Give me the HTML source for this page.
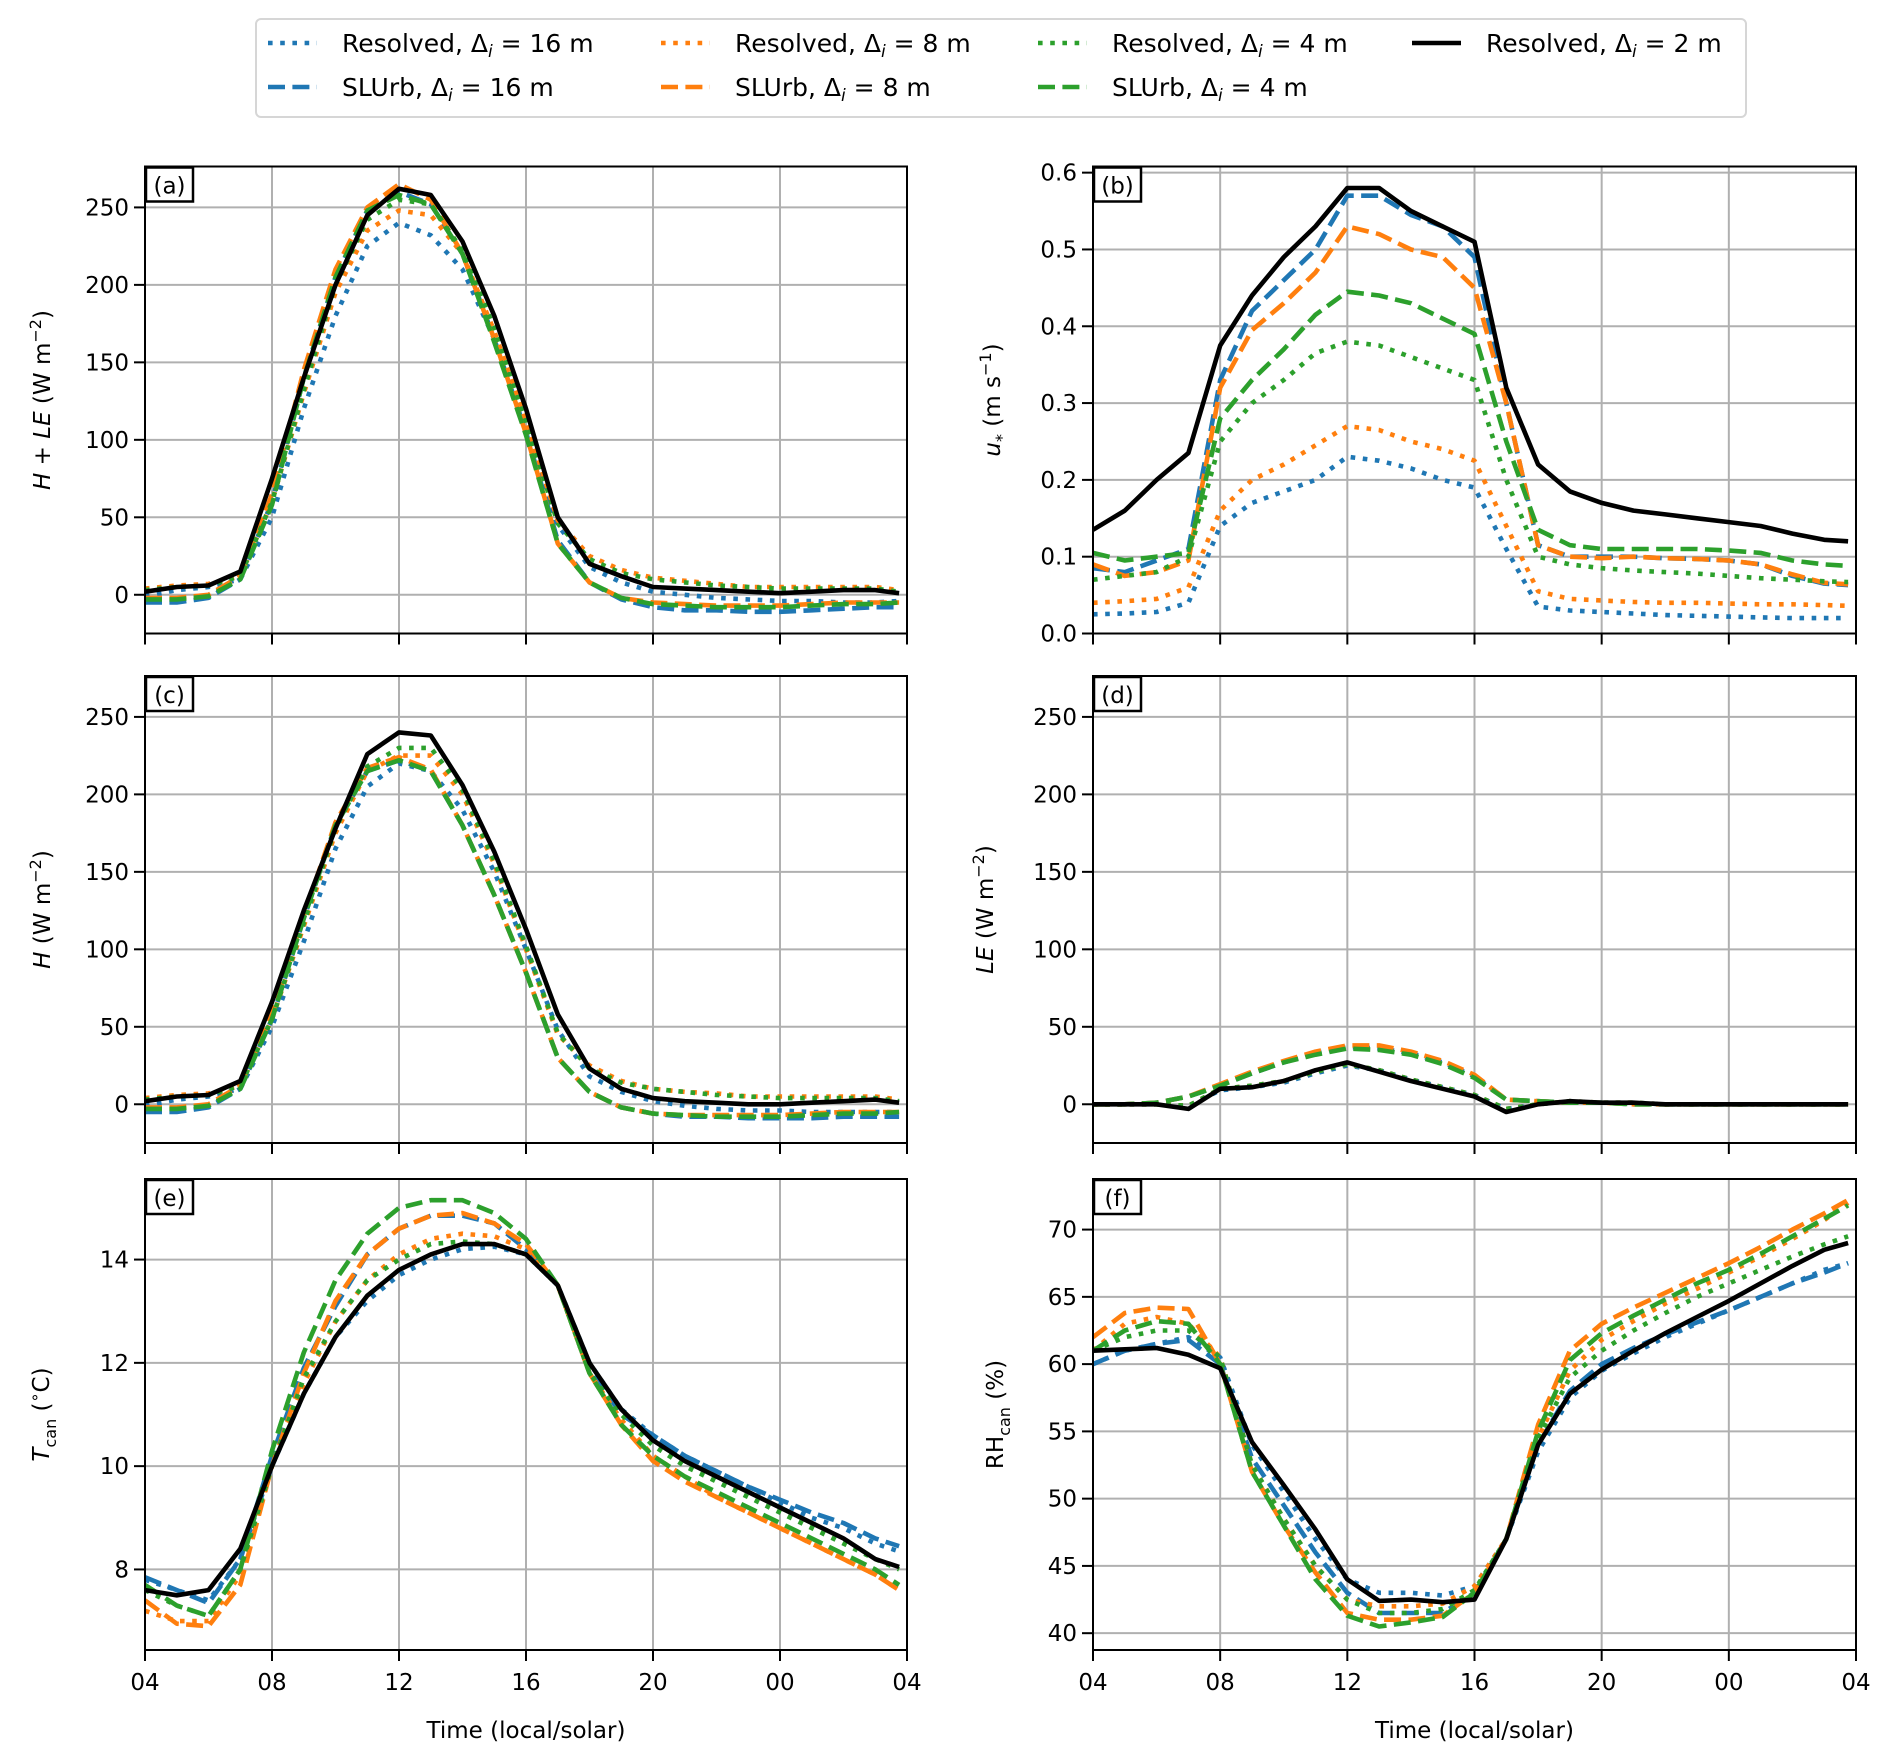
<!DOCTYPE html>
<html><head><meta charset="utf-8"><style>
html,body{margin:0;padding:0;background:#fff;}
svg{display:block;font-family:"DejaVu Sans","Liberation Sans",sans-serif;}
</style></head><body>
<svg id="fig" width="1892" height="1762" viewBox="0 0 1892 1762" xmlns="http://www.w3.org/2000/svg">
<rect width="1892" height="1762" fill="#fff"/>
<g id="legend">
<rect x="256" y="19" width="1490" height="98" rx="5" fill="#fff" stroke="#d6d6d6" stroke-width="2"/>
</g>
</svg>
<script>
const hours = [4,5,6,7,8,9,10,11,12,13,14,15,16,17,18,19,20,21,22,23,24,25,26,27,27.75];
const xTickLabels = ['04','08','12','16','20','00','04'];
const xTickValues = [4,8,12,16,20,24,28];
const seriesNames = ['Resolved, Δi = 16 m','SLUrb, Δi = 16 m','Resolved, Δi = 8 m','SLUrb, Δi = 8 m','Resolved, Δi = 4 m','SLUrb, Δi = 4 m','Resolved, Δi = 2 m'];

// Panel (a) H+LE
const aRes16 = [-1,3,5,10,50,120,180,225,240,232,210,165,110,45,18,8,2,0,-2,-3,-4,-4,-5,-5,-4];
const aSlu16 = [-5,-5,-2,10,60,140,205,248,260,252,220,165,105,35,8,-3,-8,-10,-10,-11,-11,-10,-9,-8,-8];
const aRes8 = [4,6,7,12,60,130,195,235,248,245,220,170,112,48,25,16,11,9,7,5,5,5,5,5,3];
const aSlu8 = [-2,-2,0,12,65,145,210,250,265,255,220,165,104,33,8,-2,-5,-6,-7,-7,-7,-6,-5,-5,-5];
const aRes4 = [3,5,6,12,60,132,200,242,255,252,222,172,112,46,23,14,10,8,6,5,4,4,4,4,2];
const aSlu4 = [-3,-3,-1,10,58,140,205,248,258,252,220,163,103,33,8,-2,-6,-7,-8,-8,-8,-7,-6,-6,-5];
const aRes2 = [2,5,6,15,75,140,200,245,262,258,228,180,120,50,20,12,5,4,3,2,1,2,3,3,1];

// Panel (b) u*
const bRes16 = [0.025,0.026,0.028,0.04,0.14,0.17,0.185,0.2,0.23,0.225,0.215,0.2,0.19,0.11,0.035,0.03,0.028,0.026,0.024,0.023,0.022,0.021,0.02,0.02,0.02];
const bSlu16 = [0.085,0.08,0.095,0.11,0.33,0.42,0.46,0.5,0.57,0.57,0.545,0.53,0.49,0.3,0.115,0.1,0.1,0.1,0.098,0.097,0.095,0.09,0.075,0.065,0.063];
const bRes8 = [0.04,0.042,0.045,0.06,0.16,0.2,0.22,0.245,0.27,0.265,0.25,0.24,0.225,0.14,0.055,0.045,0.043,0.041,0.04,0.04,0.039,0.038,0.038,0.037,0.036];
const bSlu8 = [0.09,0.075,0.08,0.095,0.32,0.395,0.43,0.47,0.53,0.52,0.5,0.49,0.45,0.3,0.115,0.1,0.098,0.1,0.098,0.097,0.095,0.09,0.077,0.066,0.064];
const bRes4 = [0.07,0.075,0.08,0.1,0.25,0.3,0.33,0.365,0.38,0.375,0.36,0.345,0.33,0.2,0.1,0.09,0.085,0.082,0.08,0.078,0.075,0.072,0.07,0.068,0.067];
const bSlu4 = [0.105,0.095,0.1,0.105,0.28,0.33,0.37,0.415,0.445,0.44,0.43,0.41,0.39,0.25,0.135,0.115,0.11,0.11,0.11,0.11,0.108,0.105,0.095,0.09,0.088];
const bRes2 = [0.135,0.16,0.2,0.235,0.375,0.44,0.49,0.53,0.58,0.58,0.55,0.53,0.51,0.32,0.22,0.185,0.17,0.16,0.155,0.15,0.145,0.14,0.13,0.122,0.12];

// Panel (c) H
const cRes16 = [-1,3,5,10,50,105,165,205,220,215,190,150,100,48,18,8,2,-1,-3,-4,-4,-5,-5,-5,-5];
const cSlu16 = [-5,-5,-2,10,55,120,180,215,222,215,180,135,85,30,8,-2,-6,-8,-8,-9,-9,-9,-8,-8,-8];
const cRes8 = [4,6,7,12,55,115,175,215,225,225,200,155,100,45,25,15,10,8,7,5,5,5,5,5,3];
const cSlu8 = [-2,-2,0,12,58,122,182,217,224,216,180,135,85,30,8,-2,-6,-7,-7,-7,-7,-6,-5,-5,-5];
const cRes4 = [3,5,6,12,55,117,178,218,230,230,203,157,102,46,23,14,10,8,6,5,4,4,4,4,2];
const cSlu4 = [-3,-3,-1,10,55,120,180,215,222,215,180,135,85,30,8,-2,-6,-7,-8,-8,-8,-7,-6,-6,-5];
const cRes2 = [2,5,6,15,66,125,178,226,240,238,206,163,113,58,23,10,4,2,1,0,0,1,2,3,1];

// Panel (d) LE
const dRes16 = [0,0,0,-1,9,11,14,20,25,22,16,11,6,-3,0,2,1,1,0,0,0,0,0,0,0];
const dSlu16 = [0,0,1,5,12,20,27,33,37,36,33,27,18,3,2,1,1,0,0,0,0,0,0,0,0];
const dRes8 = [0,0,0,-1,10,12,15,21,26,22,16,11,6,-3,0,2,1,1,0,0,0,0,0,0,0];
const dSlu8 = [0,0,1,5,13,21,28,34,38,38,34,28,19,3,2,1,1,0,0,0,0,0,0,0,0];
const dRes4 = [0,0,0,-1,10,12,15,21,26,22,16,11,6,-3,0,2,1,1,0,0,0,0,0,0,0];
const dSlu4 = [0,0,1,5,12,20,27,32,36,35,32,26,17,3,2,1,1,0,0,0,0,0,0,0,0];
const dRes2 = [0,0,0,-3,10,11,15,22,27,21,15,10,5,-5,0,2,1,1,0,0,0,0,0,0,0];

// Panel (e) Tcan
const eRes16 = [7.8,7.6,7.4,8.2,10,11.4,12.5,13.2,13.7,14,14.2,14.25,14.1,13.5,12,11.1,10.6,10.2,9.9,9.6,9.3,9.0,8.8,8.5,8.35];
const eSlu16 = [7.85,7.6,7.35,8.2,10.2,11.9,13.1,14.1,14.6,14.85,14.85,14.7,14.2,13.5,11.9,11,10.6,10.2,9.9,9.6,9.35,9.1,8.9,8.6,8.45];
const eRes8 = [7.2,7.0,7.0,7.9,10,11.6,12.8,13.6,14.1,14.4,14.5,14.45,14.2,13.5,11.8,10.9,10.2,9.8,9.4,9.1,8.8,8.5,8.2,7.9,7.6];
const eSlu8 = [7.4,6.95,6.9,7.7,10,11.8,13.2,14.1,14.6,14.85,14.9,14.7,14.3,13.5,11.8,10.8,10.1,9.7,9.4,9.1,8.8,8.5,8.2,7.9,7.6];
const eRes4 = [7.6,7.3,7.1,8.0,10,11.7,12.8,13.6,14.0,14.3,14.35,14.3,14.1,13.5,11.8,11,10.4,10,9.7,9.4,9.1,8.8,8.5,8.2,8.0];
const eSlu4 = [7.7,7.3,7.1,8.0,10.3,12.2,13.6,14.5,15.0,15.15,15.15,14.9,14.4,13.5,11.8,10.8,10.2,9.8,9.5,9.2,8.9,8.6,8.3,8.0,7.7];
const eRes2 = [7.6,7.5,7.6,8.4,10,11.4,12.5,13.3,13.8,14.1,14.3,14.3,14.1,13.5,12,11.1,10.5,10.1,9.8,9.5,9.2,8.9,8.6,8.2,8.05];

// Panel (f) RHcan
const fRes16 = [60,61,61.5,62,60.5,54,50.5,47,44,43,43,42.8,43.5,47,53.5,57.5,59.5,60.8,62,63,64,65,66,67,67.5];
const fSlu16 = [60,61,61.5,61.8,60,53,49.5,46,43,41.5,41.5,41.5,43,47,54,58,60,61.2,62.2,63.1,64,65,66,66.8,67.5];
const fRes8 = [61,63,63.5,63,60.5,52.5,48.5,45,42.5,42,42,42.2,43.5,47,54.5,59.5,61.8,63.2,64.5,65.6,66.8,68,69.3,70.7,72];
const fSlu8 = [62,63.8,64.2,64.1,60,52,48,44.5,41.5,41,41,41.3,43,47,55.5,61,63,64.2,65.3,66.4,67.5,68.7,70,71.2,72.2];
const fRes4 = [61,62,62.5,62.5,60.5,52.5,48.5,45,42.5,41.5,41.5,41.8,43.2,47,54.5,59,61,62.5,63.8,65,66,67,68,68.9,69.5];
const fSlu4 = [61,62.5,63.2,63,60,52,48,44,41.3,40.5,40.8,41.2,43,47,55,60.3,62.3,63.6,64.8,66,67,68.2,69.5,70.8,71.8];
const fRes2 = [61,61.1,61.2,60.7,59.7,54.2,51,47.7,44,42.4,42.5,42.3,42.5,47,54,57.8,59.6,61,62.3,63.5,64.7,66,67.3,68.5,69];

const yTicksA = [0,50,100,150,200,250];
const yTicksB = [0.0,0.1,0.2,0.3,0.4,0.5,0.6];
const yTicksE = [8,10,12,14];
const yTicksF = [40,45,50,55,60,65,70];

const NS='http://www.w3.org/2000/svg';
const svg=document.getElementById('fig');
function mk(tag,attrs,parent){const e=document.createElementNS(NS,tag);for(const k in attrs)e.setAttribute(k,attrs[k]);(parent||svg).appendChild(e);return e;}

const BLUE='#1f77b4',ORANGE='#ff7f0e',GREEN='#2ca02c',BLACK='#000';
const LW=4.6;
const DOT='4.6 7.6', DASH='17 7.4';
const styles=[[BLUE,DOT],[BLUE,DASH],[ORANGE,DOT],[ORANGE,DASH],[GREEN,DOT],[GREEN,DASH],[BLACK,null]];
const seriesKeys=['res16','slurb16','res8','slurb8','res4','slurb4','res2'];

const panels=[
 {id:'a',L:145,R:907,T:166.5,B:633.5,ymin:-25,ymax:276.4,ticks:yTicksA,fmt:v=>String(v),data:[aRes16,aSlu16,aRes8,aSlu8,aRes4,aSlu4,aRes2],label:'<tspan font-style="italic">H</tspan> + <tspan font-style="italic">LE</tspan> (W m<tspan dy="-9" font-size="16">−2</tspan><tspan dy="9">)</tspan>',lx:50,xl:false},
 {id:'b',L:1093,R:1856,T:166.5,B:633.5,ymin:0,ymax:0.608,ticks:yTicksB,fmt:v=>v.toFixed(1),data:[bRes16,bSlu16,bRes8,bSlu8,bRes4,bSlu4,bRes2],label:'<tspan font-style="italic">u</tspan><tspan dy="7" font-size="16">*</tspan><tspan dy="-7">  (m s</tspan><tspan dy="-9" font-size="16">−1</tspan><tspan dy="9">)</tspan>',lx:1000,xl:false},
 {id:'c',L:145,R:907,T:676,B:1143,ymin:-25,ymax:276.4,ticks:yTicksA,fmt:v=>String(v),data:[cRes16,cSlu16,cRes8,cSlu8,cRes4,cSlu4,cRes2],label:'<tspan font-style="italic">H</tspan> (W m<tspan dy="-9" font-size="16">−2</tspan><tspan dy="9">)</tspan>',lx:50,xl:false},
 {id:'d',L:1093,R:1856,T:676,B:1143,ymin:-25,ymax:276.4,ticks:yTicksA,fmt:v=>String(v),data:[dRes16,dSlu16,dRes8,dSlu8,dRes4,dSlu4,dRes2],label:'<tspan font-style="italic">LE</tspan> (W m<tspan dy="-9" font-size="16">−2</tspan><tspan dy="9">)</tspan>',lx:993,xl:false},
 {id:'e',L:145,R:907,T:1179,B:1650,ymin:6.44,ymax:15.56,ticks:yTicksE,fmt:v=>String(v),data:[eRes16,eSlu16,eRes8,eSlu8,eRes4,eSlu4,eRes2],label:'<tspan font-style="italic">T</tspan><tspan dy="7" font-size="16">can</tspan><tspan dy="-7"> (</tspan><tspan dy="-9" font-size="16">∘</tspan><tspan dy="9">C)</tspan>',lx:49,xl:true},
 {id:'f',L:1093,R:1856,T:1179,B:1650,ymin:38.75,ymax:73.76,ticks:yTicksF,fmt:v=>String(v),data:[fRes16,fSlu16,fRes8,fSlu8,fRes4,fSlu4,fRes2],label:'RH<tspan dy="7" font-size="16">can</tspan><tspan dy="-7"> (%)</tspan>',lx:1003,xl:true}
];

panels.forEach(p=>{
  const g=mk('g',{});
  
  
  const xS=h=>p.L+(h-4)/24*(p.R-p.L);
  const yS=v=>p.B-(v-p.ymin)/(p.ymax-p.ymin)*(p.B-p.T);
  const clipId='clip'+p.id;
  const cp=mk('clipPath',{id:clipId},g);mk('rect',{x:p.L,y:p.T,width:p.R-p.L,height:p.B-p.T},cp);
  xTickValues.forEach((v,i)=>{
    const x=xS(v);
    const gl=mk('line',{x1:x,x2:x,y1:p.T,y2:p.B,stroke:'#b0b0b0','stroke-width':2},g);
    
    
    const t=mk('line',{x1:x,x2:x,y1:p.B,y2:p.B+11,stroke:'#000','stroke-width':2},g);
    
    
    if(p.xl){
      const tl=mk('text',{x:x,y:p.B+40,'font-size':23,'text-anchor':'middle',fill:'#000'},g);
      tl.textContent=xTickLabels[i];
      
      
    }
  });
  p.ticks.forEach(v=>{
    const y=yS(v);
    const gl=mk('line',{x1:p.L,x2:p.R,y1:y,y2:y,stroke:'#b0b0b0','stroke-width':2},g);
    
    
    const t=mk('line',{x1:p.L-11,x2:p.L,y1:y,y2:y,stroke:'#000','stroke-width':2},g);
    
    
    const tl=mk('text',{x:p.L-16,y:y+8,'font-size':23,'text-anchor':'end',fill:'#000'},g);
    tl.textContent=p.fmt(v);
    
    
  });
  const sg=mk('g',{'clip-path':'url(#'+clipId+')'},g);
  p.data.forEach((arr,si)=>{
    const d=arr.map((v,i)=>(i?'L':'M')+xS(hours[i]).toFixed(1)+','+yS(v).toFixed(1)).join(' ');
    const [col,dash]=styles[si];
    const attrs={d:d,fill:'none',stroke:col,'stroke-width':LW,'stroke-linejoin':'round'};
    if(dash)attrs['stroke-dasharray']=dash;
    const path=mk('path',attrs,sg);
    
    
  });
  const fr=mk('rect',{x:p.L,y:p.T,width:p.R-p.L,height:p.B-p.T,fill:'none',stroke:'#000','stroke-width':2},g);
  
  
  const lb=mk('rect',{x:p.L+1,y:p.T+1,width:47,height:34,fill:'#fff',stroke:'#000','stroke-width':2.5},g);
  
  
  const lt=mk('text',{x:p.L+24.5,y:p.T+27,'font-size':23,'text-anchor':'middle'},g);
  lt.textContent='('+p.id+')';
  
  
  const cy=(p.T+p.B)/2;
  const yl=mk('text',{x:p.lx,y:cy,'font-size':23,'text-anchor':'middle',transform:'rotate(-90 '+p.lx+' '+cy+')'},g);
  yl.innerHTML=p.label;
  
  
  if(p.xl){
    const xl=mk('text',{x:(p.L+p.R)/2,y:1738,'font-size':23,'text-anchor':'middle'},g);
    xl.textContent='Time (local/solar)';
    
    
  }
});

const leg=document.getElementById('legend');
const legPos=[[268,43],[268,87],[661,43],[661,87],[1038,43],[1038,87],[1412,43]];
seriesNames.forEach((nm,si)=>{
  const [x,y]=legPos[si];
  const [col,dash]=styles[si];
  const a={x1:x,x2:x+49,y1:y,y2:y,stroke:col,'stroke-width':LW};
  if(dash)a['stroke-dasharray']=dash;
  const ln=mk('line',a,leg);
  
  
  const parts=nm.split('Δi');
  const t=mk('text',{x:x+74,y:y+9,'font-size':25},leg);
  t.innerHTML=parts[0]+'Δ<tspan font-style="italic" font-size="17" dy="5">i</tspan><tspan dy="-5">'+parts[1]+'</tspan>';
  
  
});
</script>
</body></html>
